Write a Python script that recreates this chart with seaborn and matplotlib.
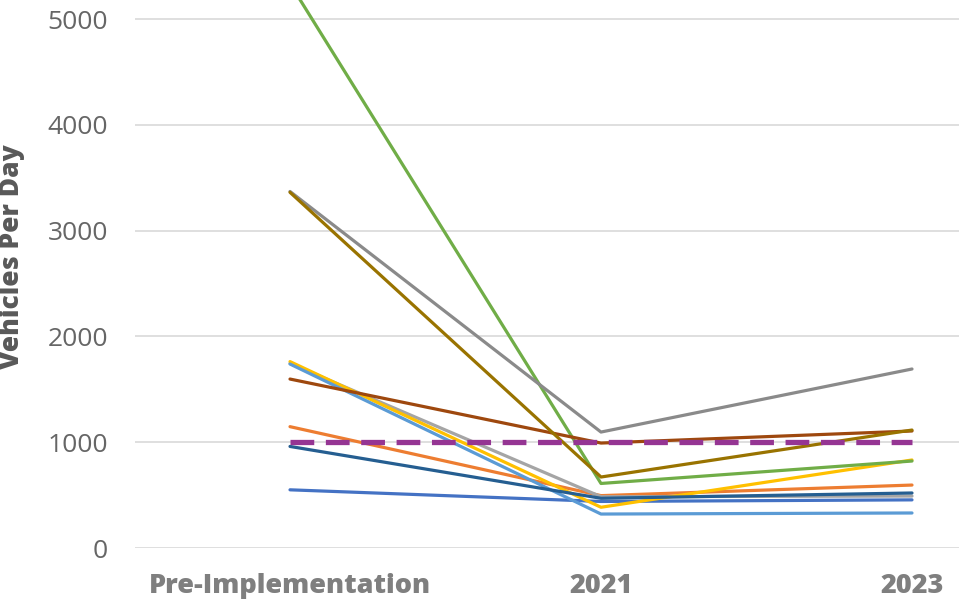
import pandas as pd
import numpy as np
import matplotlib.pyplot as plt
import seaborn as sns

# ---- data ----
periods = ['Pre-Implementation', '2021', '2023']

site_names = ['Site A', 'Site B', 'Site C', 'Site D', 'Site E', 'Site F',
              'Site G', 'Site H', 'Site I', 'Site J']
site_a = [550, 440, 455]      # blue
site_b = [1147, 495, 595]     # orange
site_c = [1745, 485, 491]     # light gray
site_d = [1762, 385, 832]     # yellow
site_e = [1739, 321, 331]     # light blue
site_f = [5335, 610, 822]     # green
site_g = [960, 470, 520]      # dark blue
site_h = [1597, 992, 1106]    # brown
site_i = [3370, 1096, 1692]   # gray
site_j = [3362, 671, 1115]    # dark gold
threshold = [1000, 1000, 1000]

site_values = [site_a, site_b, site_c, site_d, site_e,
               site_f, site_g, site_h, site_i, site_j]
site_colors = ['#4472C4', '#ED7D31', '#A5A5A5', '#FFC000', '#5B9BD5',
               '#70AD47', '#255E91', '#9E480E', '#8A8A8A', '#997300']

rows = []
for name, vals in zip(site_names, site_values):
    for p, v in zip(periods, vals):
        rows.append({'Period': p, 'Site': name, 'Vehicles': v})
df = pd.DataFrame(rows)
df_thr = pd.DataFrame({'Period': periods, 'Vehicles': threshold})

# ---- plot ----
sns.set_theme(style='white')
plt.rcParams['font.family'] = ['Open Sans', 'DejaVu Sans']

fig = plt.figure(figsize=(9.59, 6.01), dpi=100)
ax = fig.add_axes([134.5 / 959, 53 / 601, (959 - 134.5) / 959, 548 / 601])

sns.lineplot(data=df, x='Period', y='Vehicles', hue='Site',
             palette=dict(zip(site_names, site_colors)),
             linewidth=2.3, legend=False, sort=False, ax=ax)
sns.lineplot(data=df_thr, x='Period', y='Vehicles', color='#953593',
             linewidth=3.8, linestyle=(0, (4.5, 2.2)), sort=False, ax=ax)

ax.set_xlim(-0.5, (959 - 134.5) / 311 - 0.5)
ax.set_ylim(0, 5180)
ax.set_yticks([0, 1000, 2000, 3000, 4000, 5000])
ax.yaxis.grid(True, color='#D9D9D9', linewidth=1.2)
ax.set_axisbelow(True)
for s in ax.spines.values():
    s.set_visible(False)

ax.tick_params(axis='y', labelsize=19, labelcolor='#666666', length=0, pad=19)
ax.tick_params(axis='x', labelsize=19.5, labelcolor='#7F7F7F', length=0, pad=18)
for lbl in ax.get_xticklabels():
    lbl.set_fontweight('heavy')

ax.set_xlabel('')
ax.set_ylabel('Vehicles Per Day', fontsize=19, fontweight='heavy',
              color='#595959')
ax.yaxis.set_label_coords(-0.133, 0.531)

fig.savefig('out.png', dpi=100)
